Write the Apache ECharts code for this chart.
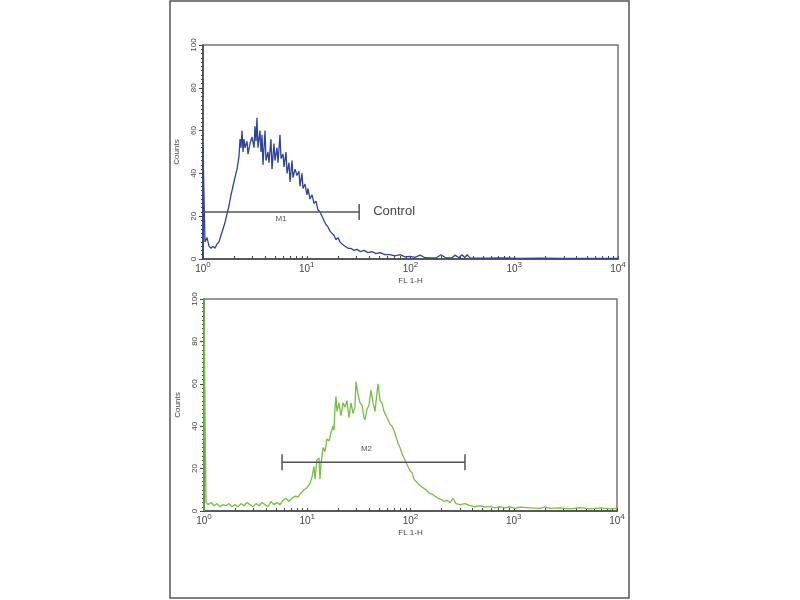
<!DOCTYPE html>
<html>
<head>
<meta charset="utf-8">
<script src="https://cdn.jsdelivr.net/npm/echarts@6/dist/echarts.min.js"></script>
<style>
  html, body { margin: 0; padding: 0; background: #fff; }
  #chart { width: 800px; height: 600px; }
</style>
</head>
<body>
<div id="chart"></div>
<script>
// FL 1-H positions in log decades (0 = 10^0 ... 4 = 10^4) and counts
var controlFL = [0, 0, 0.019, 0.039, 0.058, 0.077, 0.096, 0.116, 0.135, 0.154, 0.173, 0.193, 0.212, 0.231, 0.251, 0.270, 0.289, 0.308, 0.328, 0.347, 0.357, 0.366, 0.376, 0.386, 0.395, 0.405, 0.424, 0.434, 0.453, 0.472, 0.492, 0.501, 0.511, 0.520, 0.530, 0.549, 0.559, 0.569, 0.578, 0.598, 0.607, 0.627, 0.636, 0.655, 0.665, 0.684, 0.694, 0.713, 0.723, 0.742, 0.752, 0.771, 0.781, 0.800, 0.810, 0.829, 0.839, 0.858, 0.867, 0.887, 0.906, 0.925, 0.935, 0.954, 0.964, 0.983, 1.002, 1.012, 1.031, 1.051, 1.070, 1.089, 1.108, 1.128, 1.147, 1.166, 1.186, 1.205, 1.224, 1.243, 1.263, 1.282, 1.301, 1.320, 1.340, 1.369, 1.398, 1.427, 1.455, 1.484, 1.513, 1.552, 1.590, 1.629, 1.667, 1.706, 1.754, 1.802, 1.851, 1.899, 1.947, 1.995, 2.043, 2.092, 2.140, 2.188, 2.246, 2.294, 2.342, 2.400, 2.429, 2.467, 2.496, 2.525, 2.545, 2.574, 2.670, 2.766, 2.863, 3.055, 3.248, 3.441, 3.634, 3.827, 4.0];
var controlCounts = [0, 52, 8, 10, 6, 5, 6, 5, 7, 8, 11, 14, 17, 21, 25, 30, 34, 38, 42, 48, 56, 52, 60, 50, 56, 52, 55, 49, 54, 57, 52, 62, 55, 66, 52, 60, 50, 58, 44, 60, 46, 50, 45, 56, 42, 54, 46, 52, 45, 58, 47, 49, 43, 50, 40, 45, 36, 46, 38, 42, 39, 41, 34, 40, 33, 35, 30, 33, 28, 30, 26, 27, 23, 22, 20, 18, 16, 15, 13, 12, 11, 9, 10, 8, 7, 6, 5, 5, 4, 4.5, 3.5, 4, 3, 3.5, 2.5, 3, 2, 2, 1.5, 2, 1, 1.2, 0.8, 1.8, 0.6, 0.5, 0.5, 2, 0.5, 0.6, 1.8, 0.6, 2, 0.6, 2, 0.5, 0.4, 0.4, 0.5, 0.3, 0.4, 0.3, 0.3, 0.3, 0.3];

var sampleFL = [0, 0, 0.019, 0.039, 0.068, 0.097, 0.126, 0.155, 0.184, 0.213, 0.242, 0.271, 0.300, 0.329, 0.358, 0.387, 0.416, 0.446, 0.475, 0.504, 0.533, 0.562, 0.591, 0.620, 0.649, 0.678, 0.707, 0.736, 0.765, 0.794, 0.823, 0.852, 0.881, 0.910, 0.939, 0.969, 0.998, 1.027, 1.046, 1.065, 1.075, 1.094, 1.114, 1.123, 1.133, 1.153, 1.172, 1.191, 1.211, 1.230, 1.249, 1.259, 1.269, 1.278, 1.288, 1.307, 1.327, 1.346, 1.366, 1.385, 1.404, 1.424, 1.443, 1.462, 1.472, 1.492, 1.511, 1.530, 1.550, 1.559, 1.579, 1.598, 1.617, 1.637, 1.656, 1.676, 1.685, 1.705, 1.724, 1.743, 1.763, 1.782, 1.801, 1.821, 1.840, 1.860, 1.879, 1.898, 1.918, 1.937, 1.956, 1.976, 1.995, 2.015, 2.034, 2.053, 2.073, 2.092, 2.121, 2.150, 2.179, 2.208, 2.237, 2.266, 2.295, 2.324, 2.354, 2.383, 2.412, 2.441, 2.479, 2.528, 2.576, 2.625, 2.673, 2.722, 2.770, 2.818, 2.867, 2.915, 2.964, 3.012, 3.061, 3.157, 3.254, 3.303, 3.351, 3.448, 3.545, 3.642, 3.738, 3.835, 3.932, 4.0];
var sampleCounts = [0, 100, 4, 3, 4, 2.5, 3.5, 2, 3, 2.5, 3.5, 2, 3, 2, 3.5, 2.5, 4, 3, 2, 3.5, 2.5, 4, 3, 2, 4.5, 3, 4, 3, 5, 6, 4.5, 6, 7, 6.5, 8.5, 10, 11, 13, 16, 21, 15, 24, 25, 15, 22, 30, 28, 34, 33, 37, 40, 38, 49, 54, 47, 51, 45, 51, 49, 52, 44, 51, 46, 49, 61, 55, 51, 50, 44, 43, 48, 50, 57, 51, 47, 56, 60, 52, 51, 47, 45, 43, 41, 40, 38, 35, 32, 30, 27, 25, 23, 21, 19, 18, 15, 14, 13, 12, 11, 10, 8.5, 8, 7, 6, 5.5, 4.5, 5, 4, 6, 3.5, 3, 3.5, 2.5, 2, 2.5, 1.8, 2.2, 1.5, 2, 1.5, 2, 1.2, 1.8, 1.5, 1.2, 2, 1.2, 1.5, 1, 1.6, 1, 1.5, 1, 1.2];

// marker gates: [from FL, to FL, count level]
var gateM1 = [1, 32, 22];
var gateM2 = [5.7, 337, 23];

var decadeExponents = ['0', '1', '2', '3', '4'];
var yTicks = [0, 20, 40, 60, 80, 100];

var font = 'Liberation Sans, Arial, sans-serif';
var axisColor = '#444';

function pairs(xs, ys) {
    return xs.map(function (x, i) { return [x, ys[i]]; });
}

// minor log ticks 2..9 in each decade
var logTicks = [];
for (var d = 0; d < 4; d++) {
    for (var k = 1; k < 10; k++) logTicks.push(d + Math.log10(k));
}
logTicks.push(4);

function xAxisFor(gridIndex) {
    return {
        gridIndex: gridIndex,
        type: 'value',
        min: 0,
        max: 4,
        name: 'FL 1-H',
        nameLocation: 'middle',
        nameGap: 18,
        nameTextStyle: { fontSize: 8, color: axisColor, fontFamily: font },
        axisLine: { lineStyle: { color: axisColor, width: 1.5 } },
        axisTick: { show: true, inside: true, length: 3, customValues: logTicks, lineStyle: { color: axisColor } },
        axisLabel: {
            customValues: [0, 1, 2, 3, 4],
            margin: 2,
            color: axisColor,
            fontFamily: font,
            formatter: function (v) { return '{a|10}{b|' + decadeExponents[Math.round(v)] + '}'; },
            rich: {
                a: { fontSize: 10, lineHeight: 16, color: axisColor, fontFamily: font },
                b: { fontSize: 8, verticalAlign: 'top', color: axisColor, fontFamily: font }
            }
        },
        splitLine: { show: false }
    };
}

function yAxisFor(gridIndex) {
    return {
        gridIndex: gridIndex,
        type: 'value',
        min: 0,
        max: 100,
        interval: 20,
        name: 'Counts',
        nameLocation: 'middle',
        nameGap: 22,
        nameTextStyle: { fontSize: 8, color: axisColor, fontFamily: font },
        axisLine: { show: true, lineStyle: { color: axisColor, width: 1.5 } },
        axisTick: { show: true, length: 4, lineStyle: { color: axisColor } },
        minorTick: { show: true, splitNumber: 10, length: 2, lineStyle: { color: axisColor } },
        axisLabel: { rotate: 90, margin: 5, fontSize: 8, color: axisColor, fontFamily: font },
        splitLine: { show: false }
    };
}

function gateSeries(gridIndex, gate, label, caps, extraText) {
    return {
        type: 'custom',
        xAxisIndex: gridIndex,
        yAxisIndex: gridIndex,
        silent: true,
        z: 5,
        data: [[Math.log10(gate[0]), Math.log10(gate[1]), gate[2]]],
        renderItem: function (params, api) {
            var a = api.coord([api.value(0), api.value(2)]);
            var b = api.coord([api.value(1), api.value(2)]);
            var st = { stroke: '#555', lineWidth: 1.5 };
            var children = [
                { type: 'line', shape: { x1: a[0], y1: a[1], x2: b[0], y2: b[1] }, style: st }
            ];
            if (caps[0]) children.push({ type: 'line', shape: { x1: a[0], y1: a[1] - 8, x2: a[0], y2: a[1] + 8 }, style: st });
            if (caps[1]) children.push({ type: 'line', shape: { x1: b[0], y1: b[1] - 8, x2: b[0], y2: b[1] + 8 }, style: st });
            children.push({
                type: 'text',
                style: {
                    text: label.text,
                    x: (a[0] + b[0]) / 2 + label.dx,
                    y: a[1] + label.dy,
                    fill: '#555',
                    font: '8px ' + font,
                    align: 'center',
                    verticalAlign: 'middle'
                }
            });
            if (extraText) {
                children.push({
                    type: 'text',
                    style: {
                        text: extraText,
                        x: b[0] + 14,
                        y: b[1],
                        fill: '#444',
                        font: '13px ' + font,
                        align: 'left',
                        verticalAlign: 'middle'
                    }
                });
            }
            return { type: 'group', children: children };
        }
    };
}

var chart = echarts.init(document.getElementById('chart'), null, { renderer: 'canvas' });
var option = {
    backgroundColor: '#fff',
    animation: false,
    graphic: [{
        type: 'rect',
        shape: { x: 170, y: 1, width: 459, height: 597 },
        style: { fill: 'none', stroke: '#555', lineWidth: 1.5 },
        z: -1
    }],
    grid: [
        { left: 203, top: 45, width: 415, height: 214, show: true, borderColor: '#777', borderWidth: 1.5, backgroundColor: 'transparent' },
        { left: 204, top: 299, width: 413, height: 212, show: true, borderColor: '#777', borderWidth: 1.5, backgroundColor: 'transparent' }
    ],
    xAxis: [xAxisFor(0), xAxisFor(1)],
    yAxis: [yAxisFor(0), yAxisFor(1)],
    series: [
        {
            type: 'line',
            xAxisIndex: 0,
            yAxisIndex: 0,
            data: pairs(controlFL, controlCounts),
            showSymbol: false,
            clip: true,
            lineStyle: { color: '#2f43a0', width: 1.3 },
            z: 3
        },
        {
            type: 'line',
            xAxisIndex: 1,
            yAxisIndex: 1,
            data: pairs(sampleFL, sampleCounts),
            showSymbol: false,
            clip: true,
            lineStyle: { color: '#74c043', width: 1.3 },
            z: 3
        },
        gateSeries(0, gateM1, { text: 'M1', dx: 0, dy: 7 }, [false, true], 'Control'),
        gateSeries(1, gateM2, { text: 'M2', dx: -7, dy: -13 }, [true, true], null)
    ]
};
chart.setOption(option);
</script>
</body>
</html>
